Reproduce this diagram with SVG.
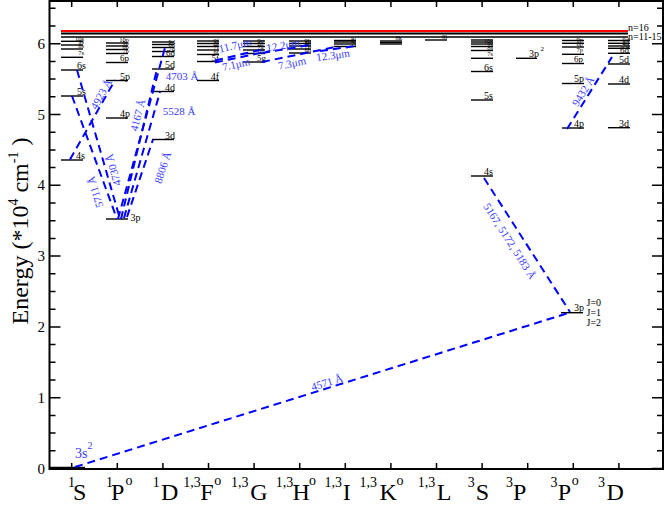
<svg xmlns="http://www.w3.org/2000/svg" width="665" height="505" viewBox="0 0 665 505">
<style>
text{font-family:"Liberation Serif","Times New Roman",serif;}
.lv{stroke:#000;stroke-width:1.4;}
.lb{font-size:10px;text-anchor:end;}
.ls{font-size:6.5px;text-anchor:end;}
.lm{font-size:9px;text-anchor:end;}
.tr{stroke:#0000ff;stroke-width:2;stroke-dasharray:8,5;fill:none;}
.tl{font-size:11px;fill:#3a3aff;text-anchor:middle;}
.tk{stroke:#000;stroke-width:1.5;}
.ax{font-size:15px;text-anchor:end;}
.big{font-size:24px;}
.sup{font-size:14px;}
</style>
<rect width="665" height="505" fill="#fff"/>
<g id="frame">
<rect x="49.5" y="1" width="613.5" height="468" fill="none" stroke="#000" stroke-width="2"/>
<path class="tk" d="M49.5 468.5h11M49.5 397.7h11M49.5 326.9h11M49.5 256.1h11M49.5 185.3h11M49.5 114.5h11M49.5 43.7h11M663 468.5h-11M663 397.7h-11M663 326.9h-11M663 256.1h-11M663 185.3h-11M663 114.5h-11M663 43.7h-11"/>
<path class="tk" d="M49.5 450.8h6M49.5 433.1h6M49.5 415.4h6M49.5 380h6M49.5 362.3h6M49.5 344.6h6M49.5 309.2h6M49.5 291.5h6M49.5 273.8h6M49.5 238.4h6M49.5 220.7h6M49.5 203h6M49.5 167.6h6M49.5 149.9h6M49.5 132.2h6M49.5 96.8h6M49.5 79.1h6M49.5 61.4h6M49.5 26h6M49.5 8.3h6M663 450.8h-6M663 433.1h-6M663 415.4h-6M663 380h-6M663 362.3h-6M663 344.6h-6M663 309.2h-6M663 291.5h-6M663 273.8h-6M663 238.4h-6M663 220.7h-6M663 203h-6M663 167.6h-6M663 149.9h-6M663 132.2h-6M663 96.8h-6M663 79.1h-6M663 61.4h-6M663 26h-6M663 8.3h-6"/>
<path class="tk" d="M71.7 469v-6M117.3 469v-6M162.9 469v-6M208.5 469v-6M254.1 469v-6M299.7 469v-6M345.3 469v-6M390.9 469v-6M436.5 469v-6M482.1 469v-6M527.7 469v-6M573.3 469v-6M618.9 469v-6M71.7 1v6M117.3 1v6M162.9 1v6M208.5 1v6M254.1 1v6M299.7 1v6M345.3 1v6M390.9 1v6M436.5 1v6M482.1 1v6M527.7 1v6M573.3 1v6M618.9 1v6"/>
<text class="ax" x="45" y="473.5">0</text>
<text class="ax" x="45" y="402.7">1</text>
<text class="ax" x="45" y="331.9">2</text>
<text class="ax" x="45" y="261.1">3</text>
<text class="ax" x="45" y="190.3">4</text>
<text class="ax" x="45" y="119.5">5</text>
<text class="ax" x="45" y="48.7">6</text>
<text transform="translate(28,231) rotate(-90)" text-anchor="middle" font-size="24">Energy (*10<tspan font-size="14" dy="-10">4</tspan><tspan dy="10"> cm</tspan><tspan font-size="14" dy="-10">-1</tspan><tspan dy="10"> )</tspan></text>
</g>
<g id="terms">
<text class="sup" x="67.9" y="487">1</text><text class="big" x="73" y="499.5">S</text>
<text class="sup" x="106" y="487">1</text><text class="big" x="111" y="499.5">P</text><text class="sup" x="125.5" y="485">o</text>
<text class="sup" x="152.7" y="487">1</text><text class="big" x="161" y="499.5">D</text>
<text class="sup" x="183.2" y="487">1,3</text><text class="big" x="200.2" y="499.5">F</text><text class="sup" x="214.2" y="485">o</text>
<text class="sup" x="231.1" y="487">1,3</text><text class="big" x="250.2" y="499.5">G</text>
<text class="sup" x="275.8" y="487">1,3</text><text class="big" x="292.6" y="499.5">H</text><text class="sup" x="309" y="485">o</text>
<text class="sup" x="324.4" y="487">1,3</text><text class="big" x="342.7" y="499.5">I</text>
<text class="sup" x="359.6" y="487">1,3</text><text class="big" x="379.6" y="499.5">K</text><text class="sup" x="396.5" y="485">o</text>
<text class="sup" x="417.7" y="487">1,3</text><text class="big" x="436.8" y="499.5">L</text>
<text class="sup" x="467.8" y="487">3</text><text class="big" x="475.8" y="499.5">S</text>
<text class="sup" x="505.9" y="487">3</text><text class="big" x="513.1" y="499.5">P</text>
<text class="sup" x="550.5" y="487">3</text><text class="big" x="557.7" y="499.5">P</text><text class="sup" x="571.7" y="485">o</text>
<text class="sup" x="598" y="487">3</text><text class="big" x="606.4" y="499.5">D</text>
</g>
<g id="limits">
<line x1="61" y1="31" x2="628" y2="31" stroke="#f00" stroke-width="2"/>
<line x1="61" y1="33.5" x2="628" y2="33.5" stroke="#000" stroke-width="2"/>
<line x1="61" y1="37" x2="628" y2="37" stroke="#000" stroke-width="1.5"/>
<text x="628" y="31" font-size="10">n=16</text>
<text x="628" y="40" font-size="10">n=11-15</text>
</g>
<g id="col-1S">
<g id="S1-3s2"><line class="lv" x1="50" y1="467.5" x2="85" y2="467.5"/></g>
<g id="S1-4s"><line class="lv" x1="61" y1="160" x2="83" y2="160"/><text class="lb" x="85" y="159">4s</text></g>
<g id="S1-5s"><line class="lv" x1="61" y1="96" x2="83" y2="96"/><text class="lb" x="86" y="95">5s</text></g>
<g id="S1-6s"><line class="lv" x1="61" y1="70" x2="83" y2="70"/><text class="lb" x="86" y="69">6s</text></g>
<g id="S1-7s"><line class="lv" x1="61" y1="57.3" x2="83" y2="57.3"/><text class="ls" x="84" y="55">7s</text></g>
<g id="S1-8s"><line class="lv" x1="61" y1="49" x2="83" y2="49"/><text class="ls" x="84" y="48">8s</text></g>
<g id="S1-9s"><line class="lv" x1="61" y1="45" x2="83" y2="45"/><text class="ls" x="84" y="44">9s</text></g>
<g id="S1-10s"><line class="lv" x1="61" y1="41.3" x2="83" y2="41.3"/><text class="ls" x="84" y="40.5">10s</text></g>
</g>
<g id="col-1P">
<g id="P1-3p"><line class="lv" x1="106" y1="219" x2="128" y2="219"/><text font-size="10" x="130.5" y="221">3p</text></g>
<g id="P1-4p"><line class="lv" x1="106" y1="118" x2="128" y2="118"/><text class="lb" x="130" y="117">4p</text></g>
<g id="P1-5p"><line class="lv" x1="106" y1="80.5" x2="128" y2="80.5"/><text class="lb" x="130" y="79.5">5p</text></g>
<g id="P1-6p"><line class="lv" x1="106" y1="62.5" x2="128" y2="62.5"/><text class="lm" x="129" y="61">6p</text></g>
<g id="P1-7p"><line class="lv" x1="106" y1="53.5" x2="128" y2="53.5"/><text class="ls" x="129" y="52.5">7p</text></g>
<g id="P1-8p"><line class="lv" x1="106" y1="49.5" x2="128" y2="49.5"/><text class="ls" x="129" y="48.5">8p</text></g>
<g id="P1-9p"><line class="lv" x1="106" y1="46" x2="128" y2="46"/><text class="ls" x="129" y="45">9p</text></g>
<g id="P1-10p"><line class="lv" x1="106" y1="43" x2="128" y2="43"/><text class="ls" x="129" y="42">10p</text></g>
</g>
<g id="col-1D">
<g id="D1-3d"><line class="lv" x1="152" y1="139.5" x2="174" y2="139.5"/><text class="lb" x="175" y="138.5">3d</text></g>
<g id="D1-4d"><line class="lv" x1="152" y1="91.5" x2="174" y2="91.5"/><text class="lb" x="175" y="90.5">4d</text></g>
<g id="D1-5d"><line class="lv" x1="152" y1="69" x2="174" y2="69"/><text class="lb" x="175" y="68">5d</text></g>
<g id="D1-6d"><line class="lv" x1="152" y1="56.5" x2="174" y2="56.5"/><text class="lm" x="175" y="55.5">6d</text></g>
<g id="D1-7d"><line class="lv" x1="152" y1="51.5" x2="174" y2="51.5"/><text class="ls" x="175" y="50.5">7d</text></g>
<g id="D1-8d"><line class="lv" x1="152" y1="47.5" x2="174" y2="47.5"/><text class="ls" x="175" y="46.5">8d</text></g>
<g id="D1-9d"><line class="lv" x1="152" y1="44.5" x2="174" y2="44.5"/><text class="ls" x="175" y="43.5">9d</text></g>
<g id="D1-10d"><line class="lv" x1="152" y1="42" x2="174" y2="42"/></g>
</g>
<g id="col-F">
<g id="F-4f"><line class="lv" x1="197" y1="80.5" x2="219" y2="80.5"/><text class="lb" x="219" y="79.5">4f</text></g>
<g id="F-5f"><line class="lv" x1="197" y1="61.5" x2="219" y2="61.5"/><text class="lm" x="219" y="60.5">5f</text></g>
<g id="F-6f"><line class="lv" x1="197" y1="54.5" x2="219" y2="54.5"/><text class="ls" x="219" y="53.5">6f</text></g>
<g id="F-7f"><line class="lv" x1="197" y1="50" x2="219" y2="50"/><text class="ls" x="219" y="49">7f</text></g>
<g id="F-8f"><line class="lv" x1="197" y1="46.5" x2="219" y2="46.5"/><text class="ls" x="219" y="45.5">8f</text></g>
<g id="F-9f"><line class="lv" x1="197" y1="43.5" x2="219" y2="43.5"/><text class="ls" x="219" y="42.5">9f</text></g>
<g id="F-10f"><line class="lv" x1="197" y1="41" x2="219" y2="41"/></g>
</g>
<g id="col-G">
<g id="G-5g"><line class="lv" x1="243" y1="62" x2="265" y2="62"/><text class="lm" x="266" y="60.5">5g</text></g>
<g id="G-6g"><line class="lv" x1="243" y1="53.5" x2="265" y2="53.5"/><text class="ls" x="264" y="52.5">6g</text></g>
<g id="G-7g"><line class="lv" x1="243" y1="50" x2="265" y2="50"/><text class="ls" x="264" y="49">7g</text></g>
<g id="G-8g"><line class="lv" x1="243" y1="46.5" x2="265" y2="46.5"/><text class="ls" x="264" y="45.5">8g</text></g>
<g id="G-9g"><line class="lv" x1="243" y1="43.5" x2="265" y2="43.5"/><text class="ls" x="264" y="42.5">9g</text></g>
<g id="G-10g"><line class="lv" x1="243" y1="41" x2="265" y2="41"/></g>
</g>
<g id="col-H">
<g id="H-6h"><line class="lv" x1="289" y1="53" x2="311" y2="53"/><text class="ls" x="311" y="52">6h</text></g>
<g id="H-7h"><line class="lv" x1="289" y1="49" x2="311" y2="49"/><text class="ls" x="311" y="48">7h</text></g>
<g id="H-8h"><line class="lv" x1="289" y1="46" x2="311" y2="46"/><text class="ls" x="311" y="45">8h</text></g>
<g id="H-9h"><line class="lv" x1="289" y1="43.5" x2="311" y2="43.5"/><text class="ls" x="311" y="42.5">9h</text></g>
<g id="H-10h"><line class="lv" x1="289" y1="41" x2="311" y2="41"/></g>
</g>
<g id="col-I">
<g id="I-7i"><line class="lv" x1="334" y1="46.5" x2="356" y2="46.5" stroke="#555"/><text class="ls" x="356" y="45.5">7i</text></g>
<g id="I-8i"><line class="lv" x1="334" y1="44" x2="356" y2="44" stroke="#555"/><text class="ls" x="356" y="42">8i</text></g>
<g id="I-9i"><line class="lv" x1="334" y1="42" x2="356" y2="42" stroke="#555"/></g>
<g id="I-10i"><line class="lv" x1="334" y1="40.5" x2="356" y2="40.5" stroke="#555"/></g>
</g>
<g id="col-K">
<g id="K-8k"><line class="lv" x1="380" y1="41" x2="402" y2="41"/><text class="ls" x="402" y="40">8k</text></g>
<g id="K-9k"><line class="lv" x1="380" y1="42.5" x2="402" y2="42.5" stroke="#666"/></g>
<g id="K-10k"><line class="lv" x1="380" y1="44" x2="402" y2="44" stroke="#666"/></g>
</g>
<g id="col-L">
<g id="L-9l"><line class="lv" x1="425" y1="40" x2="447" y2="40"/><text class="ls" x="447" y="39">9l</text></g>
</g>
<g id="col-3S">
<g id="S3-4s"><line class="lv" x1="471" y1="176" x2="493" y2="176"/><text class="lb" x="493" y="175">4s</text></g>
<g id="S3-5s"><line class="lv" x1="471" y1="100" x2="493" y2="100"/><text class="lb" x="493" y="99">5s</text></g>
<g id="S3-6s"><line class="lv" x1="471" y1="71.5" x2="493" y2="71.5"/><text class="lb" x="493" y="70.5">6s</text></g>
<g id="S3-7s"><line class="lv" x1="471" y1="58.3" x2="493" y2="58.3"/><text class="ls" x="493" y="55.5">7s</text></g>
<g id="S3-8s"><line class="lv" x1="471" y1="50.5" x2="493" y2="50.5"/><text class="ls" x="493" y="49.5">8s</text></g>
<g id="S3-9s"><line class="lv" x1="471" y1="46.5" x2="493" y2="46.5"/><text class="ls" x="493" y="45.5">9s</text></g>
<g id="S3-10s"><line class="lv" x1="471" y1="44" x2="493" y2="44"/><text class="ls" x="493" y="42.5">10s</text></g>
<g id="S3-11s"><line class="lv" x1="471" y1="42" x2="493" y2="42"/></g>
<g id="S3-12s"><line class="lv" x1="471" y1="40" x2="493" y2="40"/></g>
</g>
<g id="col-3P">
<g id="P3-3p2"><line class="lv" x1="516" y1="58.3" x2="537" y2="58.3"/><text class="lb" x="539" y="57">3p</text><text font-size="7" x="540.5" y="51">2</text></g>
</g>
<g id="col-3Po">
<g id="P3o-3p"><line class="lv" x1="561" y1="312.7" x2="583" y2="312.7"/><text class="lb" x="584" y="311">3p</text><text font-size="10" x="586.5" y="306">J=0</text><text font-size="10" x="586.5" y="316">J=1</text><text font-size="10" x="586.5" y="326">J=2</text></g>
<g id="P3o-4p"><line class="lv" x1="562" y1="128" x2="584" y2="128"/><text class="lb" x="584" y="127">4p</text></g>
<g id="P3o-5p"><line class="lv" x1="562" y1="83.5" x2="584" y2="83.5"/><text class="lb" x="584" y="82">5p</text></g>
<g id="P3o-6p"><line class="lv" x1="562" y1="63.5" x2="584" y2="63.5"/><text class="lm" x="583" y="61.5">6p</text></g>
<g id="P3o-7p"><line class="lv" x1="562" y1="54.3" x2="584" y2="54.3"/><text class="ls" x="583" y="52">7p</text></g>
<g id="P3o-8p"><line class="lv" x1="562" y1="47" x2="584" y2="47"/><text class="ls" x="583" y="46">8p</text></g>
<g id="P3o-9p"><line class="lv" x1="562" y1="43.3" x2="584" y2="43.3"/><text class="ls" x="583" y="42">9p</text></g>
<g id="P3o-10p"><line class="lv" x1="562" y1="40.5" x2="584" y2="40.5"/></g>
</g>
<g id="col-3D">
<g id="D3-3d"><line class="lv" x1="608" y1="127.7" x2="630" y2="127.7"/><text class="lb" x="629" y="126.5">3d</text></g>
<g id="D3-4d"><line class="lv" x1="608" y1="84" x2="630" y2="84"/><text class="lb" x="629" y="83">4d</text></g>
<g id="D3-5d"><line class="lv" x1="608" y1="64" x2="630" y2="64"/><text class="lb" x="629" y="63">5d</text></g>
<g id="D3-6d"><line class="lv" x1="608" y1="53.3" x2="630" y2="53.3"/><text class="lm" x="629" y="52.5">6d</text></g>
<g id="D3-7d"><line class="lv" x1="608" y1="48.3" x2="630" y2="48.3"/><text class="ls" x="629" y="47.5">7d</text></g>
<g id="D3-8d"><line class="lv" x1="608" y1="46" x2="630" y2="46"/><text class="ls" x="629" y="45">8d</text></g>
<g id="D3-9d"><line class="lv" x1="608" y1="43.3" x2="630" y2="43.3"/><text class="ls" x="629" y="42">9d</text></g>
<g id="D3-10d"><line class="lv" x1="608" y1="40.5" x2="630" y2="40.5"/></g>
</g>
<g id="connectors">
<line class="tr" x1="75" y1="467" x2="570" y2="312.5"/>
<line class="tr" x1="484" y1="178" x2="570" y2="312"/>
<line class="tr" x1="567" y1="129" x2="612" y2="57"/>
<line class="tr" x1="70" y1="159.5" x2="115" y2="80"/>
<line class="tr" x1="72" y1="96" x2="117" y2="219"/>
<line class="tr" x1="77" y1="70" x2="120" y2="219"/>
<line class="tr" x1="118" y1="219" x2="166" y2="44"/>
<line class="tr" x1="121" y1="219" x2="157" y2="69"/>
<line class="tr" x1="124" y1="218" x2="160" y2="92"/>
<line class="tr" x1="127" y1="217" x2="153" y2="139.5"/>
<line class="tr" x1="215" y1="60.5" x2="262" y2="49.5"/>
<line class="tr" x1="215" y1="62.5" x2="270" y2="51"/>
<line class="tr" x1="262" y1="53" x2="310" y2="45"/>
<line class="tr" x1="262" y1="62" x2="335" y2="47"/>
<line class="tr" x1="320" y1="51" x2="356" y2="46"/>
</g>
<g id="connector-labels">
<text font-size="14" fill="#3a3aff" x="75" y="458">3s<tspan font-size="10" dy="-9">2</tspan></text>
<text class="tl" transform="translate(328,386) rotate(-17.3)">4571 Å</text>
<text class="tl" transform="translate(510,241) rotate(57.3)" y="4">5167, 5172, 5183 Å</text>
<text class="tl" transform="translate(583,91) rotate(-58)" y="4">9432 Å</text>
<text class="tl" transform="translate(101,94) rotate(-60.5)" y="4">4923 Å</text>
<text class="tl" transform="translate(95,192) rotate(-107)" y="4">5711 Å</text>
<text class="tl" transform="translate(113,170) rotate(-106)" y="4">4730 Å</text>
<text class="tl" transform="translate(137.5,115) rotate(-75)" y="4">4167 Å</text>
<text class="tl" transform="translate(162.5,167.5) rotate(-71.6)" y="4">8806 Å</text>
<text class="tl" x="182" y="80">4703 Å</text>
<text class="tl" x="179" y="114.5">5528 Å</text>
<text class="tl" transform="translate(235,45) rotate(-13)" y="4">11.7μm</text>
<text class="tl" transform="translate(236,64) rotate(-13)" y="4">7.1μm</text>
<text class="tl" transform="translate(283,45) rotate(-10)" y="4">12.2μm</text>
<text class="tl" transform="translate(292,63) rotate(-12)" y="4">7.3μm</text>
<text class="tl" transform="translate(333,55) rotate(-8)" y="4">12.3μm</text>
</g>
</svg>
